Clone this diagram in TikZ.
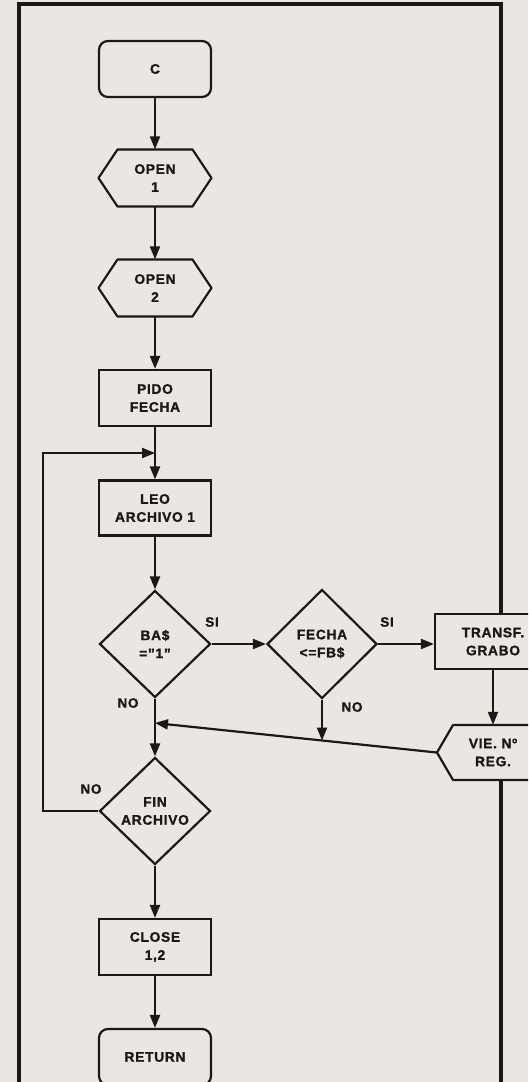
\documentclass[tikz,border=0pt]{standalone}
\usepackage{fontspec}
\setmainfont{Liberation Sans}[LetterSpace=5, BoldFeatures={FakeBold=1.2}]
\usetikzlibrary{arrows.meta,shapes.geometric}
\definecolor{paper}{HTML}{EAE7E3}
\definecolor{ink}{HTML}{1A1818}
\begin{document}
\begin{tikzpicture}[x=1pt,y=-1pt,
  every node/.style={font=\bfseries\fontsize{13.8}{18}\selectfont, text=ink, align=center},
  box/.style={draw=ink, line width=2.2pt, fill=paper, minimum width=112pt, minimum height=56pt, inner sep=0pt},
  rbox/.style={box, rounded corners=9pt},
  hexlabel/.style={minimum width=113pt, minimum height=57pt, inner sep=0pt},
  hexline/.style={draw=ink, line width=2.2pt, fill=paper, line join=round},
  dec/.style={diamond, draw=ink, line width=2.2pt, fill=paper, minimum width=111pt, minimum height=107pt, inner sep=0pt, aspect=1.04},
  flow/.style={draw=ink, line width=2.2pt, -{Triangle[width=10pt,length=13pt]}},
  lbl/.style={font=\bfseries\fontsize{13.5}{15}\selectfont},
  frame/.style={draw=ink, line width=3.2pt, line join=miter}
]
\useasboundingbox (0,0) rectangle (528,1082);
\clip (0,0) rectangle (528,1082);
\fill[paper] (0,0) rectangle (528,1082);

% nodes
\node[rbox] (c) at (155,69) {C};

\path[hexline] (98.5,178) -- (117.5,149.5) -- (192.5,149.5) -- (211.5,178) -- (192.5,206.5) -- (117.5,206.5) -- cycle;
\node[hexlabel] (open1) at (155,178) {OPEN\\1};

\path[hexline] (98.5,288) -- (117.5,259.5) -- (192.5,259.5) -- (211.5,288) -- (192.5,316.5) -- (117.5,316.5) -- cycle;
\node[hexlabel] (open2) at (155,288) {OPEN\\2};

\node[box] (pido) at (155,398) {PIDO\\FECHA};
\node[box, minimum height=55pt] (leo) at (155,508) {LEO\\ARCHIVO 1};
\node[dec] (bas) at (155,644) {BA\$\\="1"};
\node[dec, minimum width=110pt, minimum height=109pt] (fecha) at (322,644) {FECHA\\<=FB\$};
\node[box, minimum width=116pt, minimum height=55pt] (transf) at (493,641.5) {TRANSF.\\GRABO};

\path[hexline] (437,752.5) -- (453,725) -- (533,725) -- (549,752.5) -- (533,780) -- (453,780) -- cycle;
\node[hexlabel, minimum width=112pt, minimum height=55pt] (vie) at (493,752.5) {VIE. Nº\\REG.};

\node[dec] (fin) at (155,811) {FIN\\ARCHIVO};
\node[box] (close) at (155,947) {CLOSE\\1,2};
\node[rbox] (ret) at (155,1057) {RETURN};

% frame (right side interrupted by TRANSF. and VIE.)
\coordinate (ftl) at (19,4);
\coordinate (ftr) at (501,4);
\coordinate (fbl) at (19,1100);
\coordinate (fbr) at (501,1100);
\draw[frame] (fbl) -- (ftl) -- (ftr) -- (ftr |- transf.north);
\draw[frame] (fbr |- vie.south) -- (fbr);

% junctions
\coordinate (j1) at (155,453);
\coordinate (lp) at (43,453);
\coordinate (j2) at (155,723);
\coordinate (j3) at (322,740.5);

% connectors
\draw[flow] (c) -- (open1);
\draw[flow] (open1) -- (open2);
\draw[flow] (open2) -- (pido);
\draw[flow] (pido) -- (leo);
\draw[flow] (leo) -- (bas);
\draw[flow] (bas) -- (fecha);
\draw[flow] (fecha.east) -- (fecha.east -| transf.west);
\draw[flow] (transf) -- (vie);
\draw[flow] (vie.west) -- (j2);
\draw[flow] (fecha) -- (j3);
\draw[flow] (bas) -- (fin);
\draw[flow] (fin.west) -| (lp) -- (j1);
\draw[flow] (fin) -- (close);
\draw[flow] (close) -- (ret);

% labels
\node[lbl] (si1) at (212,622) {SI};
\node[lbl] (si2) at (387,622) {SI};
\node[lbl] (no1) at (128,703) {NO};
\node[lbl] (no2) at (352,707) {NO};
\node[lbl] (no3) at (91,789) {NO};
\end{tikzpicture}
\end{document}
